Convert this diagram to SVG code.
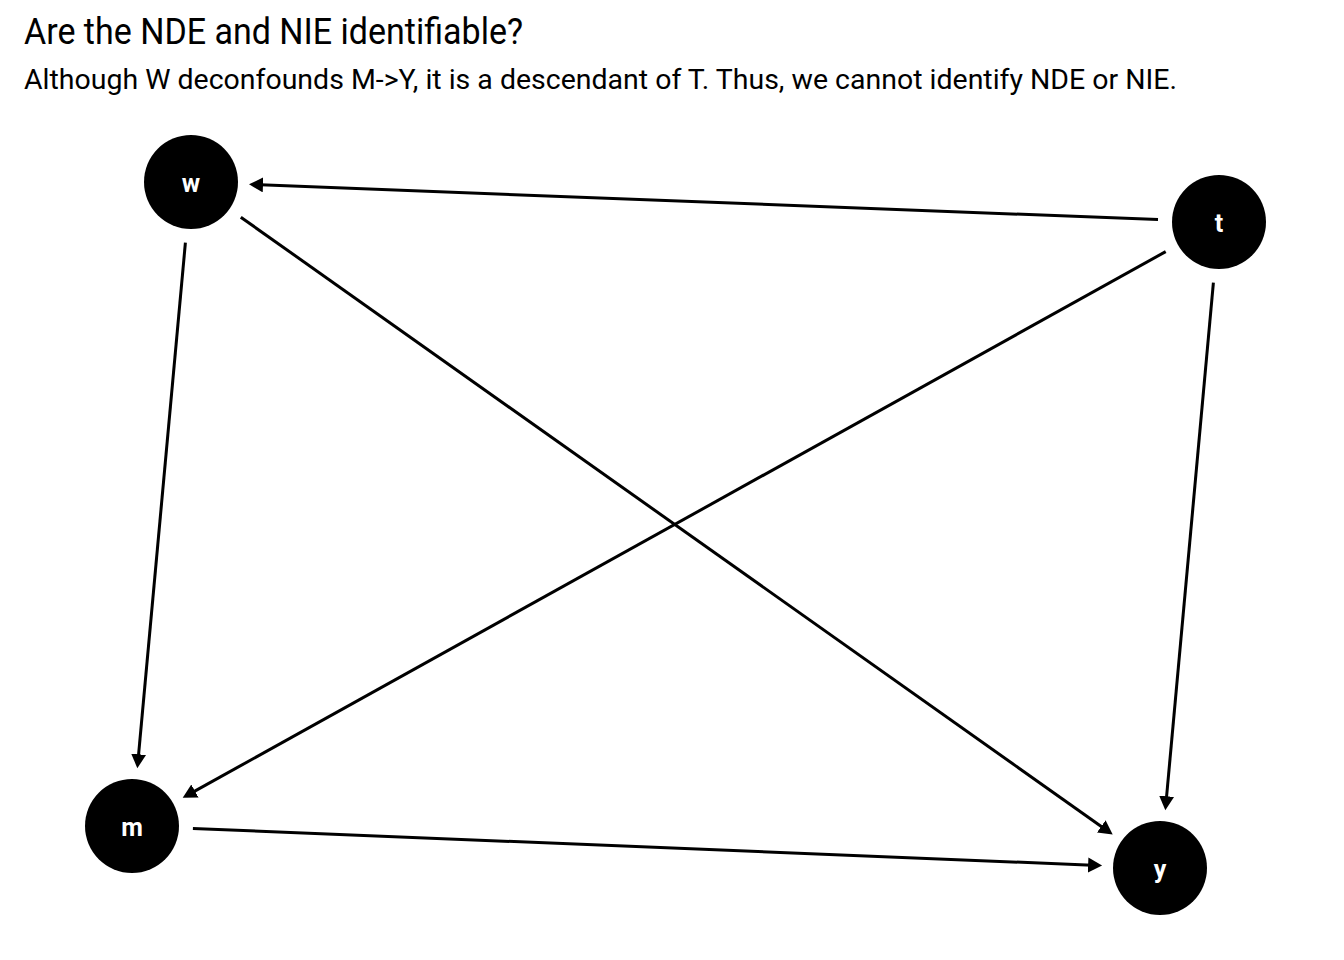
<svg xmlns="http://www.w3.org/2000/svg" width="1344" height="960" viewBox="0 0 1344 960">
<style>
.title{font-family:Roboto,"Liberation Sans",sans-serif;font-size:36px;fill:#000}
.sub{font-family:Roboto,"Liberation Sans",sans-serif;font-size:28px;fill:#000}
.node circle{fill:#000}
.node text{font-family:Roboto,"Liberation Sans",sans-serif;font-weight:bold;font-size:25px;fill:#fff;text-anchor:middle}
.edge{stroke:#000;stroke-width:3;fill:none;marker-end:url(#arr)}
</style>
<defs>
<marker id="arr" markerUnits="userSpaceOnUse" markerWidth="16" markerHeight="16" refX="10" refY="7.5" orient="auto">
<path d="M0,0 L14,7.5 L0,15 Z" fill="#000"/>
</marker>
</defs>
<rect width="1344" height="960" fill="#fff"/>
<text class="title" x="24" y="44" textLength="499" lengthAdjust="spacingAndGlyphs">Are the NDE and NIE identifiable?</text>
<text class="sub" x="24" y="89" textLength="1153" lengthAdjust="spacingAndGlyphs">Although W deconfounds M-&gt;Y, it is a descendant of T. Thus, we cannot identify NDE or NIE.</text>
<g id="edges">
<line class="edge" x1="1158" y1="219.6" x2="253" y2="184.5"/>
<line class="edge" x1="240.8" y1="217.2" x2="1109.4" y2="832.2"/>
<line class="edge" x1="185.4" y1="242.7" x2="137.7" y2="764.2"/>
<line class="edge" x1="1165.7" y1="251.6" x2="186.2" y2="795.9"/>
<line class="edge" x1="1213.4" y1="282.7" x2="1165.7" y2="806.2"/>
<line class="edge" x1="192.9" y1="828.5" x2="1098.1" y2="865.4"/>
</g>
<g id="node-w" class="node"><circle cx="191" cy="182" r="47"/><text x="191" y="192">w</text></g>
<g id="node-t" class="node"><circle cx="1219" cy="222" r="47"/><text x="1219" y="232">t</text></g>
<g id="node-m" class="node"><circle cx="132" cy="826" r="47"/><text x="132" y="836">m</text></g>
<g id="node-y" class="node"><circle cx="1160" cy="868" r="47"/><text x="1160" y="878">y</text></g>
</svg>
